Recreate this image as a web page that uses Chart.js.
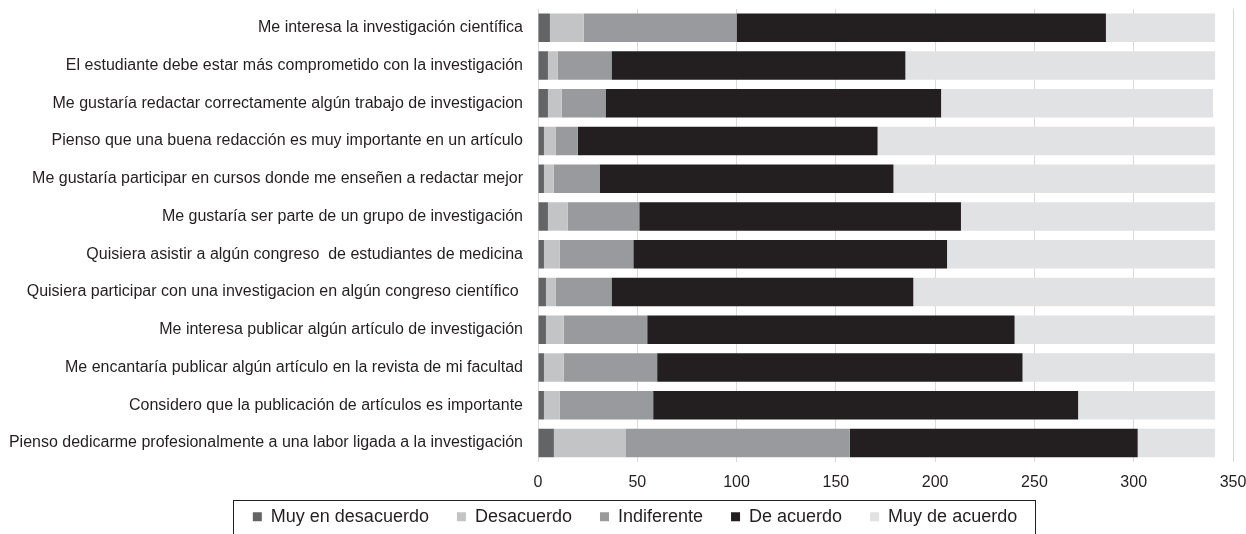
<!DOCTYPE html>
<html>
<head>
<meta charset="utf-8">
<script src="https://cdn.jsdelivr.net/npm/chart.js@4"></script>
<style>
  body { margin: 0; background: #fff; }
</style>
</head>
<body>
<canvas id="grafico" width="1246" height="534"></canvas>
<script>
const categorias = [
    'Me interesa la investigación científica',
    'El estudiante debe estar más comprometido con la investigación',
    'Me gustaría redactar correctamente algún trabajo de investigacion',
    'Pienso que una buena redacción es muy importante en un artículo',
    'Me gustaría participar en cursos donde me enseñen a redactar mejor',
    'Me gustaría ser parte de un grupo de investigación',
    'Quisiera asistir a algún congreso  de estudiantes de medicina',
    'Quisiera participar con una investigacion en algún congreso científico ',
    'Me interesa publicar algún artículo de investigación',
    'Me encantaría publicar algún artículo en la revista de mi facultad',
    'Considero que la publicación de artículos es importante',
    'Pienso dedicarme profesionalmente a una labor ligada a la investigación'
];

const muyDesacuerdo = [6, 5, 5, 3, 3, 5, 3, 4, 4, 3, 3, 8];
const desacuerdo    = [17, 5, 7, 6, 5, 10, 8, 5, 9, 10, 8, 36];
const indiferente   = [77, 27, 22, 11, 23, 36, 37, 28, 42, 47, 47, 113];
const deAcuerdo     = [186, 148, 169, 151, 148, 162, 158, 152, 185, 184, 214, 145];
const muyDeAcuerdo  = [55, 156, 137, 170, 162, 128, 135, 152, 101, 97, 69, 39];

const ejeX = { min: 0, max: 350, paso: 50 };

Chart.defaults.font.family = "'Liberation Sans', Arial, sans-serif";
Chart.defaults.color = '#231f20';

// coloca la leyenda y dibuja su marco
const marcoLeyenda = {
    id: 'marcoLeyenda',
    afterLayout(chart) {
        const lg = chart.legend;
        const alto = lg.height;
        lg.top = chart.chartArea.bottom + 18;
        lg.bottom = lg.top + alto;
        lg.left += 24;
    },
    afterDraw(chart) {
        const lg = chart.legend;
        const cajas = lg.legendHitBoxes;
        if (!cajas || !cajas.length) return;
        const izq = Math.round(cajas[0].left - 20) + 0.5;
        const ult = cajas[cajas.length - 1];
        const der = Math.round(ult.left + ult.width + 18) + 0.5;
        const arriba = Math.round(lg.top + 20) + 0.5;
        const ctx = chart.ctx;
        ctx.save();
        ctx.strokeStyle = '#231f20';
        ctx.lineWidth = 1;
        ctx.strokeRect(izq, arriba, der - izq, chart.height + 5 - arriba);
        ctx.restore();
    }
};

function serie(nombre, valores, color) {
    return {
        label: nombre,
        data: valores,
        backgroundColor: color,
        borderWidth: 0,
        barPercentage: 0.755,
        categoryPercentage: 1
    };
}

new Chart(document.getElementById('grafico').getContext('2d'), {
    type: 'bar',
    data: {
        labels: categorias,
        datasets: [
            serie('Muy en desacuerdo', muyDesacuerdo, '#636466'),
            serie('Desacuerdo', desacuerdo, '#c3c4c6'),
            serie('Indiferente', indiferente, '#999a9d'),
            serie('De acuerdo', deAcuerdo, '#231f20'),
            serie('Muy de acuerdo', muyDeAcuerdo, '#e1e2e3')
        ]
    },
    options: {
        indexAxis: 'y',
        responsive: false,
        animation: false,
        layout: { padding: { left: 0, top: 9, right: 0, bottom: -25 } },
        scales: {
            x: {
                stacked: true,
                min: ejeX.min,
                max: ejeX.max,
                ticks: { stepSize: ejeX.paso, padding: 11, font: { size: 16 }, color: '#231f20' },
                grid: { color: '#d9d9da', drawTicks: false },
                border: { display: false },
                afterFit: s => {
                    s.paddingRight = 13;
                    s.paddingLeft = 0;
                }
            },
            y: {
                stacked: true,
                ticks: { padding: 15, font: { size: 16 }, color: '#231f20', autoSkip: false },
                grid: { display: false, drawTicks: false },
                border: { display: false },
                afterFit: s => {
                    s.width = 538;
                    s.paddingTop = 0;
                    s.paddingBottom = 0;
                }
            }
        },
        plugins: {
            legend: {
                position: 'bottom',
                labels: {
                    boxWidth: 9,
                    boxHeight: 9,
                    padding: 28,
                    font: { size: 18 },
                    color: '#231f20'
                }
            },
            tooltip: { enabled: false }
        }
    },
    plugins: [marcoLeyenda]
});
</script>
</body>
</html>
